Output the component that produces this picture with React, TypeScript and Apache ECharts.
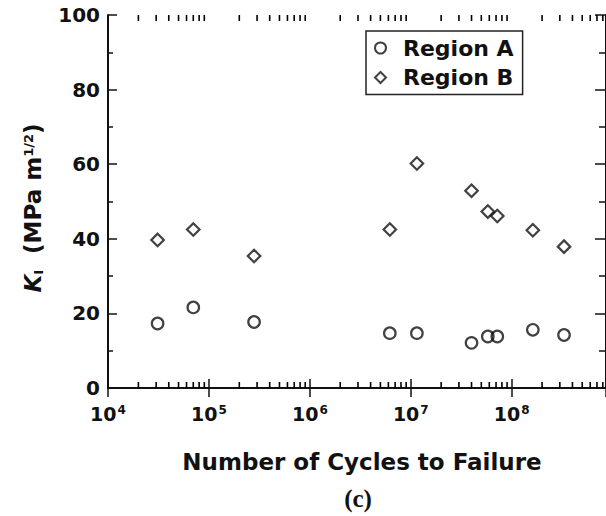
import React, { useEffect, useRef } from 'react';
import * as echarts from 'echarts';

// ---- data ----
const CYCLES = [3.1e4, 7.0e4, 2.8e5, 6.2e6, 1.15e7, 4.0e7, 5.8e7, 7.2e7, 1.62e8, 3.3e8];
const REGION_A = [17.3, 21.6, 17.7, 14.7, 14.7, 12.1, 13.8, 13.8, 15.6, 14.2];
const REGION_B = [39.7, 42.5, 35.4, 42.5, 60.2, 52.9, 47.3, 46.1, 42.3, 37.9];
const SERIES_NAMES = ['Region A', 'Region B'];

// ---- axes ----
const X_MIN = 1e4;
const X_MAX = 8.6e8;
const Y_MIN = 0;
const Y_MAX = 100;
const Y_STEP = 20;
const X_MINOR_TICKS = [
  2e4, 3e4, 4e4, 5e4, 6e4, 7e4, 8e4, 9e4,
  2e5, 3e5, 4e5, 5e5, 6e5, 7e5, 8e5, 9e5,
  2e6, 3e6, 4e6, 5e6, 6e6, 7e6, 8e6, 9e6,
  2e7, 3e7, 4e7, 5e7, 6e7, 7e7, 8e7, 9e7,
  2e8, 3e8, 4e8, 5e8, 6e8, 7e8, 8e8,
];
const X_TITLE = 'Number of Cycles to Failure';
const PANEL_LABEL = '(c)';

const FONT = 'DejaVu Sans';
const INK = '#111';

export default function App() {
  const ref = useRef<HTMLDivElement>(null);
  useEffect(() => {
    if (!ref.current) return;
    const chart = echarts.init(ref.current, undefined, { renderer: 'svg' });
    const symbolStyle = { color: 'rgba(255,255,255,0)', borderColor: INK, borderWidth: 2.2 };
    const tickItems: number[][] = [];
    X_MINOR_TICKS.forEach((v) => {
      tickItems.push([v, Y_MIN, 1]);
      tickItems.push([v, Y_MAX, -1]);
    });
    const option: any = {
      animation: false,
      backgroundColor: '#fff',
      grid: { left: 108, top: 15, width: 503, height: 373, containLabel: false },
      legend: {
        data: SERIES_NAMES,
        orient: 'vertical',
        left: 366,
        top: 31,
        padding: [6, 9, 6, 8],
        itemGap: 7.5,
        itemWidth: 11,
        itemHeight: 11,
        borderColor: '#222',
        borderWidth: 1.5,
        textStyle: { fontFamily: FONT, fontWeight: 'bold', fontSize: 22, color: INK, padding: [0, 0, 0, 12] },
      },
      xAxis: [
        {
          type: 'log',
          logBase: 10,
          min: X_MIN,
          max: X_MAX,
          position: 'bottom',
          axisLine: { show: true, lineStyle: { color: INK, width: 2 } },
          axisTick: { show: true, inside: true, length: 9, lineStyle: { color: INK, width: 1.5 } },
          splitLine: { show: false },
          axisLabel: {
            show: true,
            margin: 16,
            showMaxLabel: false,
            formatter: (v: number) => {
              const e = Math.log10(v);
              if (Math.abs(e - Math.round(e)) > 1e-6) return '';
              return '{b|10}{s|' + Math.round(e) + '}';
            },
            rich: {
              b: { fontFamily: FONT, fontWeight: 'bold', fontSize: 19, color: INK },
              s: { fontFamily: FONT, fontWeight: 'bold', fontSize: 12, color: INK, verticalAlign: 'top', padding: [0, 0, 0, 1] },
            },
          },
        },
        {
          type: 'log',
          logBase: 10,
          min: X_MIN,
          max: X_MAX,
          position: 'top',
          axisLine: { show: true, lineStyle: { color: INK, width: 2 } },
          axisTick: { show: true, inside: true, length: 9, lineStyle: { color: INK, width: 1.5 } },
          axisLabel: { show: false },
          splitLine: { show: false },
        },
      ],
      yAxis: [
        {
          type: 'value',
          min: Y_MIN,
          max: Y_MAX,
          interval: Y_STEP,
          position: 'left',
          axisLine: { show: true, lineStyle: { color: INK, width: 2 } },
          axisTick: { show: true, inside: true, length: 9, lineStyle: { color: INK, width: 1.5 } },
          minorTick: { show: true, splitNumber: 2, length: 5, lineStyle: { color: INK, width: 1.5 } },
          splitLine: { show: false },
          axisLabel: { margin: 8, fontFamily: FONT, fontWeight: 'bold', fontSize: 20, color: INK },
        },
        {
          type: 'value',
          min: Y_MIN,
          max: Y_MAX,
          interval: Y_STEP,
          position: 'right',
          axisLine: { show: true, lineStyle: { color: INK, width: 2 } },
          axisTick: { show: true, inside: true, length: 11, lineStyle: { color: INK, width: 1.5 } },
          minorTick: { show: true, splitNumber: 2, length: 7, lineStyle: { color: INK, width: 1.5 } },
          splitLine: { show: false },
          axisLabel: { show: false },
        },
      ],
      series: [
        {
          name: SERIES_NAMES[0],
          type: 'scatter',
          symbol: 'circle',
          symbolSize: 11.5,
          itemStyle: symbolStyle,
          data: CYCLES.map((c, i) => [c, REGION_A[i]]),
          z: 5,
        },
        {
          name: SERIES_NAMES[1],
          type: 'scatter',
          symbol: 'diamond',
          symbolSize: 12.5,
          itemStyle: symbolStyle,
          data: CYCLES.map((c, i) => [c, REGION_B[i]]),
          z: 5,
        },
        {
          name: 'minor-ticks',
          type: 'custom',
          silent: true,
          clip: false,
          encode: { x: 0, y: 1 },
          data: tickItems,
          renderItem: (params: any, api: any) => {
            const p = api.coord([api.value(0), api.value(1)]);
            const dir = api.value(2);
            return {
              type: 'line',
              shape: { x1: p[0], y1: p[1], x2: p[0], y2: p[1] - 6 * dir },
              style: { stroke: '#000', lineWidth: 1.6 },
            };
          },
          z: 20,
        },
      ],
      graphic: [
        {
          type: 'text',
          x: 33,
          y: 208,
          rotation: Math.PI / 2,
          style: {
            text: '{k|K}{i|I}{t|  (MPa m}{s|1/2}{t|)}',
            align: 'center',
            verticalAlign: 'middle',
            fill: INK,
            rich: {
              k: { fontFamily: FONT, fontSize: 23, fontWeight: 'bold', fontStyle: 'italic', fill: INK },
              i: { fontFamily: FONT, fontSize: 13, fontWeight: 'bold', verticalAlign: 'bottom', fill: INK },
              t: { fontFamily: FONT, fontSize: 23, fontWeight: 'bold', fill: INK },
              s: { fontFamily: FONT, fontSize: 13, fontWeight: 'bold', verticalAlign: 'top', fill: INK },
            },
          },
        },
        {
          type: 'text',
          x: 362,
          y: 462,
          style: { text: X_TITLE, align: 'center', verticalAlign: 'middle', fontFamily: FONT, fontSize: 23, fontWeight: 'bold', fill: INK },
        },
        {
          type: 'text',
          x: 358,
          y: 498,
          style: { text: PANEL_LABEL, align: 'center', verticalAlign: 'middle', fontFamily: 'Liberation Serif', fontSize: 25, fontWeight: 'bold', fill: INK },
        },
      ],
    };
    chart.setOption(option);
    return () => chart.dispose();
  }, []);
  return (
    <div ref={ref} style={{ position: 'absolute', left: 0, top: 0, width: 606, height: 516, background: '#fff' }} />
  );
}
